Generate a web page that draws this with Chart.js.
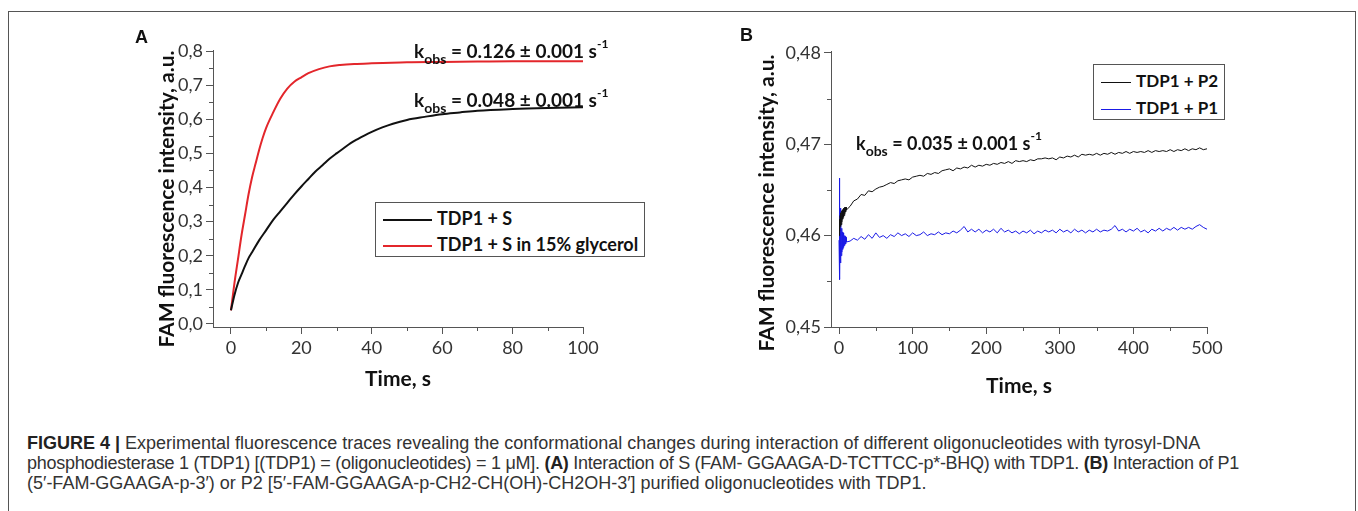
<!DOCTYPE html>
<html lang="en">
<head>
  <meta charset="UTF-8">
  <title>Figure 4</title>
  <script src="https://cdn.jsdelivr.net/npm/chart.js"></script>
  <style>
    body {
      margin: 0;
      width: 1358px;
      height: 511px;
      overflow: hidden;
      background: #fff;
      position: relative;
      font-family: Lato, sans-serif;
    }

    .frame {
      position: absolute;
      left: 8px;
      top: 11px;
      width: 1346px;
      height: 520px;
      border: 1px solid #555;
    }

    canvas {
      position: absolute;
    }

    .panel {
      position: absolute;
      font: bold 18px Arial, "Liberation Sans", sans-serif;
      color: #111;
    }

    .ytitle {
      position: absolute;
      font: bold 21px Lato, sans-serif;
      color: #111;
      white-space: nowrap;
      transform: translate(-50%, -50%) rotate(-90deg);
    }

    .kobs {
      position: absolute;
      font: bold 19px Lato, sans-serif;
      color: #111;
      white-space: nowrap;
      line-height: 1;
    }

    .kobs sub { font-size: 14px; vertical-align: -6px; }
    .kobs sup { font-size: 12px; vertical-align: 10px; }

    .legend {
      position: absolute;
      border: 1px solid #555;
      background: #fff;
      font: bold 18px Lato, sans-serif;
      color: #111;
    }

    .legend .row {
      position: absolute;
      white-space: nowrap;
      line-height: 20px;
    }

    .legend .swatch {
      display: inline-block;
      vertical-align: middle;
      margin-right: 5px;
    }

    .caption {
      position: absolute;
      left: 27px;
      top: 433px;
      font: 18px "Liberation Sans", Arial, sans-serif;
      color: #333;
      line-height: 20px;
      white-space: nowrap;
    }

    .caption b { color: #222; }
  </style>
</head>
<body>
  <div class="frame"></div>

  <canvas id="chartA" width="500" height="380" style="left:120px; top:20px;"></canvas>
  <canvas id="chartB" width="520" height="380" style="left:720px; top:20px;"></canvas>

  <div class="panel" style="left:135px; top:27px;">A</div>
  <div class="panel" style="left:740px; top:25px;">B</div>

  <div class="ytitle" style="left:165px; top:199px;">FAM fluorescence intensity, a.u.</div>
  <div class="ytitle" style="left:765px; top:203px;">FAM fluorescence intensity, a.u.</div>

  <div class="kobs" style="left:414px; top:38px;">k<sub>obs</sub> = 0.126 ± 0.001 s<sup>-1</sup></div>
  <div class="kobs" style="left:414px; top:87px;">k<sub>obs</sub> = 0.048 ± 0.001 s<sup>-1</sup></div>
  <div class="kobs" style="left:856px; top:130px; font-size:18px;">k<sub>obs</sub> = 0.035 ± 0.001 s<sup>-1</sup></div>

  <div class="legend" style="left:375px; top:202px; width:268px; height:53px;">
    <div class="row" style="left:7px; top:5px;"><span class="swatch" style="width:49px; border-top:2px solid #111;"></span>TDP1 + S</div>
    <div class="row" style="left:7px; top:31px;"><span class="swatch" style="width:49px; border-top:2px solid #e3262b;"></span>TDP1 + S in 15% glycerol</div>
  </div>

  <div class="legend" style="left:1093px; top:64px; width:130px; height:54px; font-size:17px;">
    <div class="row" style="left:7px; top:6px;"><span class="swatch" style="width:30px; border-top:1px solid #111;"></span>TDP1 + P2</div>
    <div class="row" style="left:7px; top:33px;"><span class="swatch" style="width:30px; border-top:1px solid #1a1ae6;"></span>TDP1 + P1</div>
  </div>

  <div class="caption">
    <div><b>FIGURE 4 |</b> Experimental fluorescence traces revealing the conformational changes during interaction of different oligonucleotides with tyrosyl-DNA</div>
    <div style="letter-spacing:-0.28px;">phosphodiesterase 1 (TDP1) [(TDP1) = (oligonucleotides) = 1 μM]. <b>(A)</b> Interaction of S (FAM- GGAAGA-D-TCTTCC-p*-BHQ) with TDP1. <b>(B)</b> Interaction of P1</div>
    <div>(5′-FAM-GGAAGA-p-3′) or P2 [5′-FAM-GGAAGA-p-CH2-CH(OH)-CH2OH-3′] purified oligonucleotides with TDP1.</div>
  </div>

  <script>
    // Panel A: time (s) and fluorescence readings
    const timeA_S = [0, 1, 2, 3, 4, 5, 6, 8, 10, 12, 14, 16, 18, 20, 22, 24, 26, 28, 30, 32, 34, 36, 38, 40, 43, 46, 50, 55, 60, 65, 70, 80, 90, 100];
    const tdp1S   = [0.04, 0.085, 0.12, 0.145, 0.17, 0.193, 0.21, 0.245, 0.275, 0.305, 0.33, 0.355, 0.38, 0.403, 0.425, 0.447, 0.465, 0.484, 0.50, 0.515, 0.53, 0.542, 0.553, 0.563, 0.576, 0.587, 0.598, 0.607, 0.615, 0.62, 0.625, 0.63, 0.633, 0.635];

    const timeA_G = [0, 1, 2, 3, 4, 5, 6, 7, 8, 9, 10, 12, 14, 16, 18, 20, 22, 25, 28, 31, 35, 40, 50, 60, 70, 80, 90, 100];
    const tdp1SGlycerol = [0.04, 0.12, 0.19, 0.26, 0.32, 0.38, 0.43, 0.47, 0.51, 0.545, 0.575, 0.62, 0.66, 0.69, 0.71, 0.723, 0.735, 0.747, 0.755, 0.759, 0.762, 0.764, 0.767, 0.768, 0.769, 0.77, 0.77, 0.77];

    const xTicksA = [0, 20, 40, 60, 80, 100];
    const xMinorA = [10, 30, 50, 70, 90];
    const yTicksA = [0, 0.1, 0.2, 0.3, 0.4, 0.5, 0.6, 0.7, 0.8];
    const yMinorA = [0.05, 0.15, 0.25, 0.35, 0.45, 0.55, 0.65, 0.75];

    // Panel B: time (s) and fluorescence readings
    const timeB = [0, 0.5, 1, 1.5, 2, 2.5, 3, 3.5, 4, 4.5, 5, 5.5, 6, 6.5, 7, 7.5, 8, 8.5, 9, 9.5, 10,
      15, 20, 25, 30, 35, 40, 45, 50, 55, 60, 65, 70, 75, 80, 85, 90, 95, 100,
      105, 110, 115, 120, 125, 130, 135, 140, 145, 150, 155, 160, 165, 170, 175, 180, 185, 190, 195, 200,
      205, 210, 215, 220, 225, 230, 235, 240, 245, 250, 255, 260, 265, 270, 275, 280, 285, 290, 295, 300,
      305, 310, 315, 320, 325, 330, 335, 340, 345, 350, 355, 360, 365, 370, 375, 380, 385, 390, 395, 400,
      405, 410, 415, 420, 425, 430, 435, 440, 445, 450, 455, 460, 465, 470, 475, 480, 485, 490, 495, 500];

    const tdp1P2 = [0.4600, 0.4618, 0.4605, 0.4622, 0.4610, 0.4625, 0.4612, 0.4627, 0.4615, 0.4628, 0.4618, 0.4629, 0.4620, 0.4630, 0.4622, 0.4631, 0.4624, 0.4631, 0.4626, 0.4631, 0.4628,
      0.4632, 0.4638, 0.4640, 0.4645, 0.4644, 0.4649, 0.4648, 0.4651, 0.4653, 0.4654, 0.4656, 0.4658, 0.4657, 0.4660, 0.4661, 0.4662, 0.4661, 0.4664,
      0.4665, 0.4666, 0.4665, 0.4668, 0.4667, 0.4669, 0.4668, 0.4671, 0.4672, 0.4673, 0.4671, 0.4674, 0.4673, 0.4675, 0.4674, 0.4677, 0.4675, 0.4677, 0.4676, 0.4678,
      0.4677, 0.4679, 0.4678, 0.4680, 0.4679, 0.4681, 0.4679, 0.4682, 0.4681, 0.4682, 0.4681, 0.4683, 0.4682, 0.4684, 0.4684, 0.4685, 0.4684, 0.4685, 0.4683, 0.4686,
      0.4685, 0.4687, 0.4686, 0.4688, 0.4686, 0.4689, 0.4688, 0.4689, 0.4688, 0.4690, 0.4688, 0.4690, 0.4689, 0.4691, 0.4689, 0.4691, 0.4690, 0.4692, 0.4690, 0.4692,
      0.4691, 0.4692, 0.4691, 0.4693, 0.4691, 0.4693, 0.4692, 0.4693, 0.4692, 0.4694, 0.4692, 0.4694, 0.4693, 0.4695, 0.4693, 0.4695, 0.4694, 0.4696, 0.4694, 0.4695];

    const tdp1P1 = [0.4595, 0.4663, 0.4552, 0.4630, 0.4570, 0.4615, 0.4578, 0.4608, 0.4582, 0.4604, 0.4585, 0.4603, 0.4587, 0.4601, 0.4589, 0.4600, 0.4590, 0.4599, 0.4591, 0.4598, 0.4593,
      0.4594, 0.4597, 0.4595, 0.4599, 0.4596, 0.4601, 0.4597, 0.4603, 0.4598, 0.4600, 0.4597, 0.4601, 0.4599, 0.4603, 0.4600, 0.4602, 0.4599, 0.4603,
      0.4600, 0.4601, 0.4604, 0.4600, 0.4602, 0.4601, 0.4604, 0.4601, 0.4603, 0.4602, 0.4605, 0.4603, 0.4606, 0.4610, 0.4604, 0.4607, 0.4604, 0.4607, 0.4603, 0.4606,
      0.4604, 0.4607, 0.4603, 0.4608, 0.4604, 0.4606, 0.4603, 0.4605, 0.4602, 0.4605, 0.4603, 0.4606, 0.4602, 0.4605, 0.4603, 0.4606, 0.4604, 0.4606, 0.4603, 0.4607,
      0.4604, 0.4606, 0.4603, 0.4607, 0.4604, 0.4606, 0.4603, 0.4606, 0.4604, 0.4607, 0.4604, 0.4606, 0.4605, 0.4607, 0.4611, 0.4605, 0.4607, 0.4604, 0.4607, 0.4605,
      0.4608, 0.4604, 0.4606, 0.4603, 0.4607, 0.4605, 0.4608, 0.4605, 0.4608, 0.4606, 0.4609, 0.4606, 0.4609, 0.4607, 0.4609, 0.4607, 0.4610, 0.4612, 0.4609, 0.4607];

    const xTicksB = [0, 100, 200, 300, 400, 500];
    const xMinorB = [50, 150, 250, 350, 450];
    const yTicksB = [0.45, 0.46, 0.47, 0.48];
    const yMinorB = [0.455, 0.465, 0.475];

    const axisColor = '#555';
    const tickFont = { family: 'Lato', size: 18 };
    const titleFont = { family: 'Lato', size: 21, weight: 'bold' };

    // short ticks half way between the labelled ones
    const minorTicks = {
      id: 'minorTicks',
      afterDraw(chart, args, opts) {
        const ctx = chart.ctx;
        const xs = chart.scales.x;
        const ys = chart.scales.y;
        ctx.save();
        ctx.strokeStyle = axisColor;
        ctx.lineWidth = 1;
        ctx.beginPath();
        opts.x.forEach(v => {
          const px = Math.round(xs.getPixelForValue(v)) + 0.5;
          ctx.moveTo(px, xs.top);
          ctx.lineTo(px, xs.top + 4);
        });
        opts.y.forEach(v => {
          const py = Math.round(ys.getPixelForValue(v)) + 0.5;
          ctx.moveTo(ys.right, py);
          ctx.lineTo(ys.right - 4, py);
        });
        ctx.stroke();
        ctx.restore();
      }
    };

    function toPoints(xs, ys) {
      return xs.map((x, i) => ({ x, y: ys[i] }));
    }

    function makeChart(id, cfg) {
      return new Chart(document.getElementById(id), {
        type: 'line',
        data: { datasets: cfg.datasets },
        options: {
          responsive: false,
          animation: false,
          devicePixelRatio: 1,
          layout: { padding: cfg.padding },
          elements: { point: { radius: 0 } },
          plugins: {
            legend: { display: false },
            tooltip: { enabled: false },
            minorTicks: { x: cfg.xMinor, y: cfg.yMinor }
          },
          scales: {
            x: {
              type: 'linear',
              min: cfg.xMin,
              max: cfg.xMax,
              afterBuildTicks: s => { s.ticks = cfg.xTicks.map(v => ({ value: v })); },
              afterFit: s => { s.height = 73; },
              grid: { drawOnChartArea: false, tickLength: 7, tickColor: axisColor },
              border: { color: axisColor },
              ticks: { font: tickFont, color: '#333', padding: 3, maxRotation: 0, callback: v => String(v) },
              title: { display: true, text: 'Time, s', font: titleFont, color: '#111', padding: { top: 8, bottom: cfg.xTitlePad } }
            },
            y: {
              min: cfg.yMin,
              max: cfg.yMax,
              afterBuildTicks: s => { s.ticks = cfg.yTicks.map(v => ({ value: v })); },
              afterFit: s => { s.width = cfg.yWidth; },
              grid: { drawOnChartArea: false, tickLength: 7, tickColor: axisColor },
              border: { color: axisColor },
              ticks: { font: tickFont, color: '#333', padding: 3, callback: v => v.toFixed(cfg.yDigits).replace('.', ',') }
            }
          }
        },
        plugins: [minorTicks]
      });
    }

    makeChart('chartA', {
      datasets: [
        { data: toPoints(timeA_S, tdp1S), borderColor: '#111', borderWidth: 2, cubicInterpolationMode: 'monotone' },
        { data: toPoints(timeA_G, tdp1SGlycerol), borderColor: '#e3262b', borderWidth: 2, cubicInterpolationMode: 'monotone' }
      ],
      padding: { top: 30, right: 37, left: 0, bottom: 0 },
      xMin: -5.1, xMax: 100, xTicks: xTicksA, xMinor: xMinorA, xTitlePad: 8,
      yMin: -0.009, yMax: 0.803, yTicks: yTicksA, yMinor: yMinorA, yDigits: 1,
      yWidth: 93
    });

    makeChart('chartB', {
      datasets: [
        { data: toPoints(timeB, tdp1P2), borderColor: '#111', borderWidth: 1 },
        { data: toPoints(timeB, tdp1P1), borderColor: '#1a1ae6', borderWidth: 1 }
      ],
      padding: { top: 31, right: 33, left: 0, bottom: 0 },
      xMin: -10.9, xMax: 500, xTicks: xTicksB, xMinor: xMinorB, xTitlePad: 1,
      yMin: 0.45, yMax: 0.4802, yTicks: yTicksB, yMinor: yMinorB, yDigits: 2,
      yWidth: 111
    });
  </script>
</body>
</html>
